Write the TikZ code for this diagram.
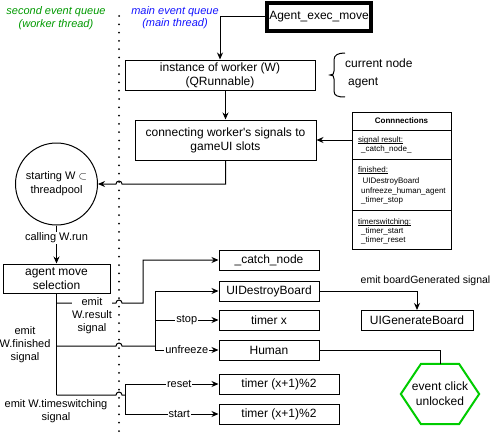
\documentclass[tikz,border=0pt]{standalone}
\usepackage{fontspec}
\setmainfont{Liberation Sans}
\usetikzlibrary{arrows.meta}

\definecolor{workergreen}{RGB}{0,153,0}
\definecolor{mainblue}{RGB}{20,20,255}
\definecolor{hexgreen}{RGB}{0,204,0}

\tikzset{
  box/.style={draw,line width=1pt,inner sep=0pt,align=center,font=\fontsize{12}{14}\selectfont},
  lbl/.style={inner sep=0pt,align=center,font=\fontsize{11}{13}\selectfont},
  elbl/.style={fill=white,inner sep=1pt,font=\fontsize{11}{13}\selectfont},
  tbltxt/.style={anchor=west,inner sep=0pt,font=\fontsize{8}{9.5}\selectfont},
  plain/.style={line width=1pt},
  link/.style={line width=1pt,-{Stealth[length=7pt,width=6pt]}},
}
\newcommand{\ulhead}[1]{\setbox0\hbox{#1}\rlap{\rule[-1.3pt]{\wd0}{0.5pt}}\box0}

\begin{document}
\begin{tikzpicture}[x=1pt,y=1pt,yscale=-1]
\useasboundingbox (0,0) rectangle (492,436);

% queue headings and divider
\node[lbl,text=workergreen,font=\fontsize{11}{13}\selectfont\itshape] (qworker) at (56,18.5) {second event queue\\(worker thread)};
\node[lbl,text=mainblue,font=\fontsize{11}{12}\selectfont\itshape] (qmain) at (175,18) {main event queue\\(main thread)};
\draw[line width=2pt,line cap=round,dash pattern=on 0pt off 8.3pt] (119,16) -- (119,436);

% main thread boxes
\node[box,line width=4pt,minimum width=104pt,minimum height=28pt] (exec) at (319,17) {Agent\_exec\_move};
\node[box,minimum width=190pt,minimum height=30pt] (inst) at (220,75) {instance of worker (W)\\(QRunnable)};
\node[box,minimum width=181pt,minimum height=40pt] (conn) at (225.5,140) {connecting worker\textquotesingle s signals to\\gameUI slots};

% brace with worker data
\draw[plain] (345,53) .. controls (338,53) and (334,55) .. (334,60) -- (334,71) .. controls (334,74) and (333,75) .. (330,75) .. controls (333,75) and (334,76) .. (334,79) -- (334,91) .. controls (334,96) and (338,97) .. (345,97);
\node[lbl,anchor=west,font=\fontsize{12}{14}\selectfont] (curnode) at (345,63) {current node};
\node[lbl,anchor=west,font=\fontsize{12}{14}\selectfont] (agentlbl) at (348,83) {agent};

% connections table
\node[draw,line width=1pt,minimum width=99pt,minimum height=137pt,inner sep=0pt] (tbl) at (401.5,180.5) {};
\draw[plain] (352,130) -- (451,130);
\draw[plain] (352,159) -- (451,159);
\draw[plain] (352,210) -- (451,210);
\node[tbltxt,anchor=center,font=\fontsize{8}{9.5}\selectfont\bfseries] (tblhead) at (401.5,120.5) {Connnections};
\node[tbltxt] (tres) at (358,140) {\ulhead{signal result:}};
\node[tbltxt] (tres1) at (361,149.5) {\_catch\_node\_};
\node[tbltxt] (tfin) at (358,170) {\ulhead{finished:}};
\node[tbltxt] (tfin1) at (361,181) {\,UIDestroyBoard};
\node[tbltxt] (tfin2) at (361,191) {unfreeze\_human\_agent};
\node[tbltxt] (tfin3) at (361,200.5) {\_timer\_stop};
\node[tbltxt] (ttim) at (358,222) {\ulhead{timerswitching:}};
\node[tbltxt] (ttim1) at (361,231) {\_timer\_start};
\node[tbltxt] (ttim2) at (361,240.5) {\_timer\_reset};

% worker thread
\node[draw,circle,line width=1pt,minimum size=82pt,inner sep=0pt,align=center,font=\fontsize{11}{14}\selectfont] (pool) at (56.5,184) {starting W $\subset$\\threadpool};
\node[box,minimum width=107pt,minimum height=29pt] (amove) at (56.5,278.5) {agent move\\selection};

% slots
\node[box,minimum width=100pt,minimum height=20pt] (catch) at (269,260) {\_catch\_node};
\node[box,minimum width=100pt,minimum height=20pt] (destroy) at (269,291) {UIDestroyBoard};
\node[box,minimum width=100pt,minimum height=20pt] (timerx) at (269,320) {timer x};
\node[box,minimum width=100pt,minimum height=20pt] (human) at (269,350) {Human};
\node[box,minimum width=120pt,minimum height=20pt] (tnext) at (279,384) {timer (x+1)\%2};
\node[box,minimum width=120pt,minimum height=20pt] (tnextb) at (279,414) {timer (x+1)\%2};
\node[box,minimum width=112pt,minimum height=20pt] (gen) at (417,320.5) {UIGenerateBoard};
\node[align=center,inner sep=0pt,minimum width=78pt,minimum height=60pt,font=\fontsize{12}{15}\selectfont] (click) at (440,394) {event click\\unlocked};
\draw[line width=2pt,hexgreen] (click.west) -- ([xshift=-19pt]click.north) -- ([xshift=19pt]click.north) -- (click.east) -- ([xshift=19pt]click.south) -- ([xshift=-19pt]click.south) -- cycle;

% crossing points and bends
\coordinate (xpool) at (119,184);
\coordinate (xres) at (119,303);
\coordinate (xfin) at (119,346);
\coordinate (xtim) at (119,395);
\coordinate (resbend) at (143,303);
\coordinate (finbus) at (155,346);
\coordinate (timbus) at (125,395);

% main thread flow
\draw[link] (exec.west) -| (inst.north);
\draw[link] (inst.south -| conn.north) -- (conn.north);
\draw[link] (tbl.west |- conn.east) -- (conn.east);
\draw[link] (conn.south) |- ([xshift=3pt]xpool) arc[start angle=0,end angle=-180,radius=3] -- (pool.east);
\draw[link] (pool.south) -- node[elbl,pos=0.33]{calling W.run} (amove.north);

% emitted signals
\draw[plain] (amove.south) -- (amove.south |- xtim);
\draw[link] (amove.south |- xres) -- ([xshift=-3pt]xres) arc[start angle=180,end angle=360,radius=3] -- (resbend) |- (catch.west);
\draw[plain] (amove.south |- xfin) -- ([xshift=-3pt]xfin) arc[start angle=180,end angle=360,radius=3] -- (finbus);
\draw[plain] (finbus |- destroy.west) -- (finbus |- human.west);
\draw[link] (finbus |- destroy.west) -- (destroy.west);
\draw[link] (finbus |- timerx.west) -- node[elbl]{stop} (timerx.west);
\draw[link] (finbus |- human.west) -- node[elbl]{unfreeze} (human.west);
\draw[plain] (amove.south |- xtim) -- ([xshift=-3pt]xtim) arc[start angle=180,end angle=360,radius=3] -- (timbus);
\draw[plain] (timbus |- tnext.west) -- (timbus |- tnextb.west);
\draw[link] (timbus |- tnext.west) -- node[elbl,pos=0.58]{reset} (tnext.west);
\draw[link] (timbus |- tnextb.west) -- node[elbl,pos=0.58]{start} (tnextb.west);
\draw[link] (destroy.east) -| (gen.north);
\draw[plain] (human.east) -| (click.north);

% signal labels
\node[lbl,fill=white] (ressig) at (92,316) {emit\\W.result\\signal};
\node[lbl] (finsig) at (25,345) {emit\\W.finished\\signal};
\node[lbl] (timsig) at (56,411) {emit W.timeswitching\\signal};
\node[lbl,anchor=east,font=\fontsize{10.5}{13}\selectfont] (bgsig) at (490.5,281) {emit boardGenerated signal};

\end{tikzpicture}
\end{document}
